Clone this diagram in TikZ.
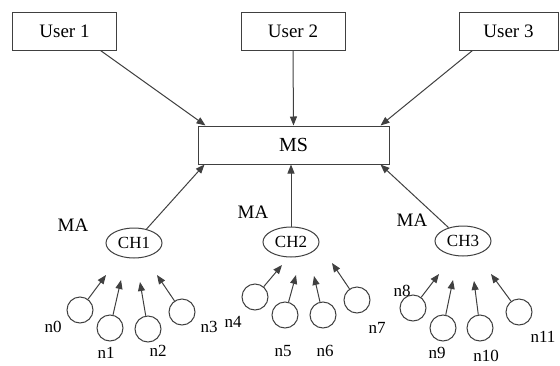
\documentclass[tikz,border=0pt]{standalone}
\usepackage{fontspec}
\setmainfont{Liberation Serif}
\usetikzlibrary{shapes.geometric,arrows.meta}
\begin{document}
\begin{tikzpicture}[x=1pt,y=-1pt,
  line/.style={draw=black!75, line width=1pt},
  arr/.style={line, -{Triangle[length=9pt,width=7pt]}},
  userbox/.style={draw=black!75, line width=1pt, minimum width=104pt, minimum height=38pt, inner sep=0pt, font=\fontsize{19}{22}\selectfont},
  msbox/.style={draw=black!75, line width=1pt, minimum width=191pt, minimum height=38pt, inner sep=0pt, font=\fontsize{20}{24}\selectfont},
  chnode/.style={ellipse, draw=black!75, line width=1pt, minimum width=56pt, minimum height=30pt, inner sep=0pt, font=\fontsize{17}{20}\selectfont},
  sensor/.style={circle, draw=black!75, line width=1pt, minimum size=26pt, inner sep=0pt},
  malabel/.style={inner sep=0pt, font=\fontsize{19}{22}\selectfont},
  nlabel/.style={inner sep=0pt, font=\fontsize{17}{20}\selectfont}
]
\useasboundingbox (0,0) rectangle (560,365);

% users and MS
\node[userbox] (u1) at (64.5,31) {User 1};
\node[userbox] (u2) at (293,31) {User 2};
\node[userbox, minimum width=99pt] (u3) at (508.5,31) {User 3};
\node[msbox] (ms) at (293.5,145) {MS};

\draw[arr] ([xshift=36pt]u1.south) -- ([xshift=-88pt]ms.north);
\draw[arr] (u2.south) -- (ms.north);
\draw[arr] ([xshift=-36pt]u3.south) -- ([xshift=87pt]ms.north);

% cluster heads
\node[chnode] (ch1) at (134,243) {CH1};
\node[chnode] (ch2) at (291,242) {CH2};
\node[chnode] (ch3) at (463,241) {CH3};

\node[malabel] (ma1) at (73,225) {MA};
\node[malabel] (ma2) at (253,212) {MA};
\node[malabel] (ma3) at (412,220) {MA};

\draw[arr] (ch1) -- ([xshift=-89pt]ms.south);
\draw[arr] (ch2) -- (ch2 |- ms.south);
\draw[arr] (ch3) -- ([xshift=87pt]ms.south);

% sensor nodes
\node[sensor] (c0) at (80,310) {};
\node[sensor] (c1) at (110,328) {};
\node[sensor] (c2) at (148,329) {};
\node[sensor] (c3) at (182,312) {};
\node[sensor] (c4) at (255,297) {};
\node[sensor] (c5) at (285,315) {};
\node[sensor] (c6) at (323,315) {};
\node[sensor] (c7) at (357,300) {};
\node[sensor] (c8) at (413,308) {};
\node[sensor] (c9) at (443,328) {};
\node[sensor] (c10) at (480,328) {};
\node[sensor] (c11) at (519,312) {};

\coordinate (t0) at (106,275);
\coordinate (t1) at (121,280);
\coordinate (t2) at (140,282);
\coordinate (t3) at (157,275);
\coordinate (t4) at (282,265);
\coordinate (t5) at (296,275);
\coordinate (t6) at (314,276);
\coordinate (t7) at (332,263);
\coordinate (t8) at (439,274);
\coordinate (t9) at (453,280);
\coordinate (t10) at (474,281);
\coordinate (t11) at (491,274);

\foreach \i in {0,...,11} {\draw[arr] (c\i) -- (t\i);}

\node[nlabel] (l0) at (53,327) {n0};
\node[nlabel] (l1) at (106,353) {n1};
\node[nlabel] (l2) at (158,351) {n2};
\node[nlabel] (l3) at (209,327) {n3};
\node[nlabel] (l4) at (233,322) {n4};
\node[nlabel] (l5) at (283,351) {n5};
\node[nlabel] (l6) at (325,351) {n6};
\node[nlabel] (l7) at (377,328) {n7};
\node[nlabel] (l8) at (402,291) {n8};
\node[nlabel] (l9) at (437,353) {n9};
\node[nlabel] (l10) at (486,356) {n10};
\node[nlabel] (l11) at (543,337) {n11};
\end{tikzpicture}
\end{document}
